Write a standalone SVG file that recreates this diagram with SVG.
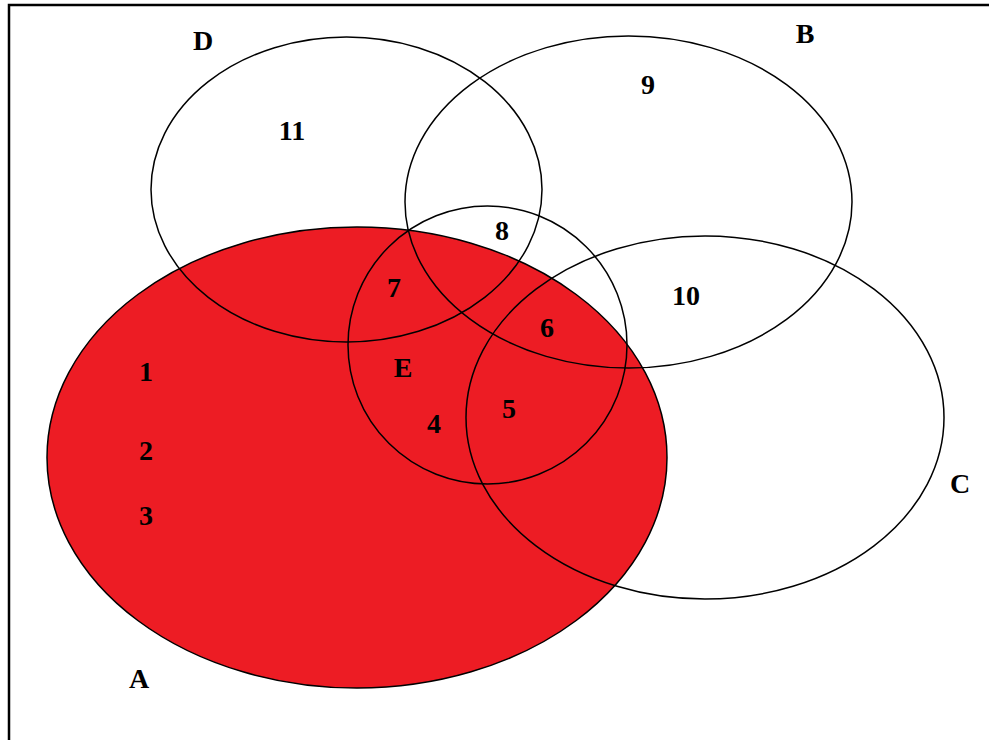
<svg xmlns="http://www.w3.org/2000/svg" width="989" height="740" viewBox="0 0 989 740">
<style>
  .ring { fill: none; stroke: #000; stroke-width: 1.5; }
  .lbl { font-family: "Liberation Serif", "Times New Roman", serif; font-weight: bold; font-size: 28px; fill: #000; text-anchor: middle; }
</style>
<rect width="989" height="740" fill="#fff"/>
<path d="M9 740 V5 H989" fill="none" stroke="#000" stroke-width="2.5"/>
<g id="setA-fill">
  <ellipse cx="357" cy="457.5" rx="310" ry="230.5" fill="#ED1C24"/>
</g>
<g id="setA"><ellipse class="ring" cx="357" cy="457.5" rx="310" ry="230.5"/><text class="lbl" x="139" y="688">A</text></g>
<g id="setD"><ellipse class="ring" cx="346.5" cy="189.5" rx="195.5" ry="152.5"/><text class="lbl" x="203" y="50">D</text></g>
<g id="setB"><ellipse class="ring" cx="628.5" cy="202" rx="223.5" ry="166"/><text class="lbl" x="805" y="43">B</text></g>
<g id="setE"><ellipse class="ring" cx="487.5" cy="345" rx="139.5" ry="139"/><text class="lbl" x="403" y="377">E</text></g>
<g id="setC"><ellipse class="ring" cx="705" cy="417.5" rx="239" ry="181.5"/><text class="lbl" x="960" y="493">C</text></g>
<g id="elements">
  <text class="lbl" x="146" y="381">1</text>
  <text class="lbl" x="146" y="460">2</text>
  <text class="lbl" x="146" y="525">3</text>
  <text class="lbl" x="434" y="433">4</text>
  <text class="lbl" x="509" y="418">5</text>
  <text class="lbl" x="547" y="337">6</text>
  <text class="lbl" x="394" y="297">7</text>
  <text class="lbl" x="502" y="240">8</text>
  <text class="lbl" x="648" y="94">9</text>
  <text class="lbl" x="686" y="305">10</text>
  <text class="lbl" x="292" y="140">11</text>
</g>
<g id="connectors"/>
</svg>
